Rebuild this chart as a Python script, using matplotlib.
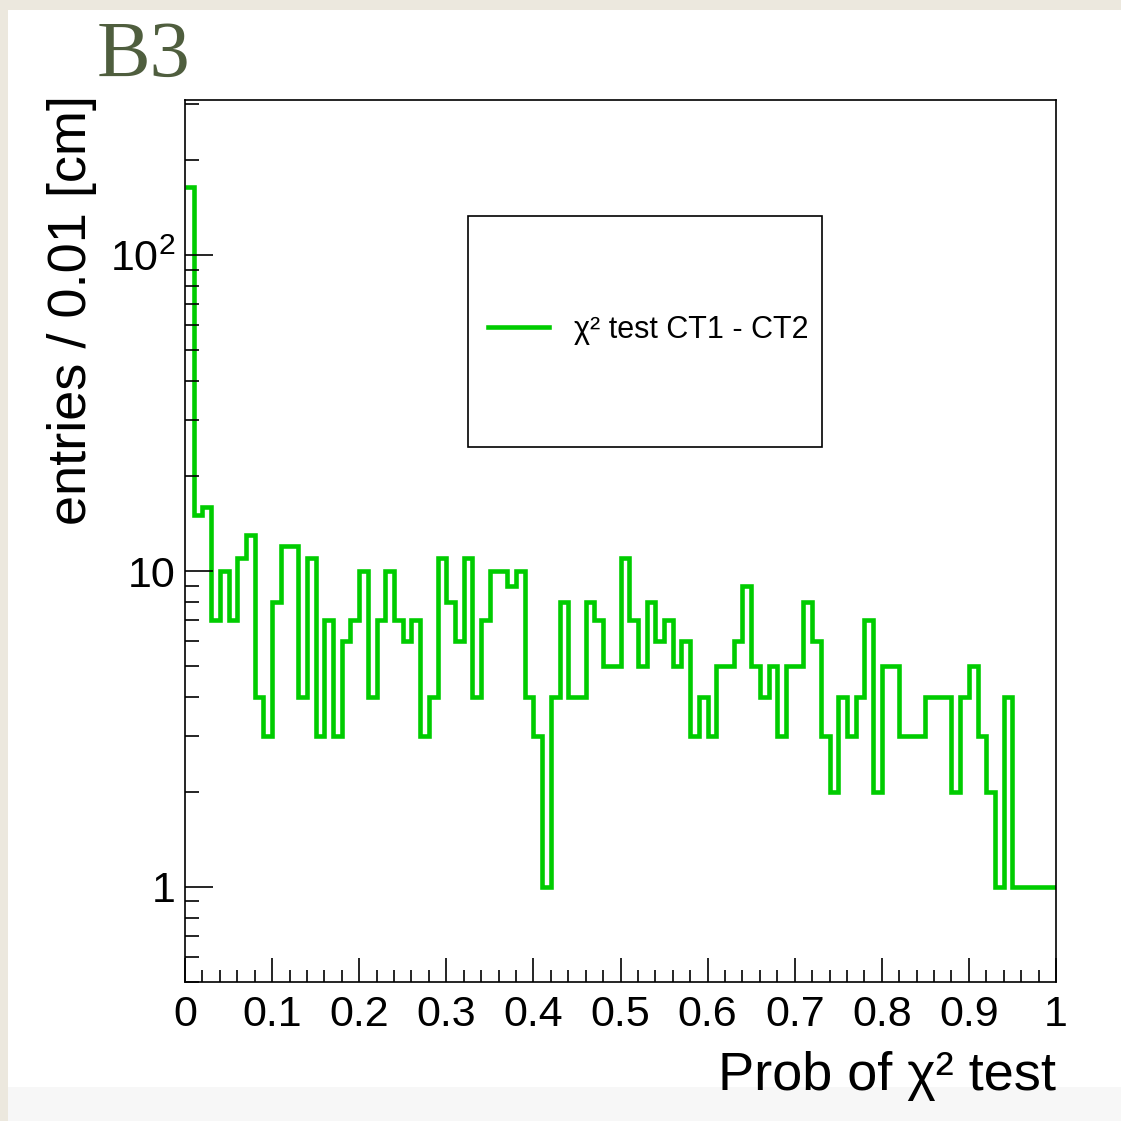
import numpy as np
import matplotlib
matplotlib.use("Agg")
import matplotlib.pyplot as plt
from matplotlib.patches import Rectangle
from matplotlib.ticker import FixedLocator, FixedFormatter, NullFormatter

plt.rcParams["font.family"] = ["Liberation Sans", "DejaVu Sans"]

# --- histogram data (entries per 0.01 bin of the chi2 probability) ---
bin_edges = np.linspace(0.0, 1.0, 101)
counts = [
    165, 15, 16, 7, 10, 7, 11, 13, 4, 3,
    8, 12, 12, 4, 11, 3, 7, 3, 6, 7,
    10, 4, 7, 10, 7, 6, 7, 3, 4, 11,
    8, 6, 11, 4, 7, 10, 10, 9, 10, 4,
    3, 1, 4, 8, 4, 4, 8, 7, 5, 5,
    11, 7, 5, 8, 6, 7, 5, 6, 3, 4,
    3, 5, 5, 6, 9, 5, 4, 5, 3, 5,
    5, 8, 6, 3, 2, 4, 3, 4, 7, 2,
    5, 5, 3, 3, 3, 4, 4, 4, 2, 4,
    5, 3, 2, 1, 4, 1, 1, 1, 1, 1,
]
series_label = "χ² test CT1 - CT2"
x_ticks = [0, 0.1, 0.2, 0.3, 0.4, 0.5, 0.6, 0.7, 0.8, 0.9, 1.0]
x_tick_labels = ["0", "0.1", "0.2", "0.3", "0.4", "0.5", "0.6", "0.7", "0.8", "0.9", "1"]
y_ticks = [1, 10, 100]
y_tick_labels = ["1", "10", r"$\mathregular{10^{2}}$"]

W = H = 1121
fig = plt.figure(figsize=(W / 100, H / 100), dpi=100, facecolor="#ece8de")

# page background: white sheet with light grey strip at the bottom
fig.patches.append(Rectangle((8 / W, 34 / H), 1 - 8 / W, 1 - 44 / H,
                             transform=fig.transFigure, facecolor="white",
                             edgecolor="none", zorder=-10))
fig.patches.append(Rectangle((8 / W, 0), 1 - 8 / W, 34 / H,
                             transform=fig.transFigure, facecolor="#f7f7f7",
                             edgecolor="none", zorder=-10))

ax = fig.add_axes([185 / W, (H - 982) / H, 871 / W, 882 / H])
ax.set_zorder(2)
ax.set_facecolor("white")

ax.stairs(counts, bin_edges, baseline=None, color="#00cc00", linewidth=3.3,
          label=series_label)

ax.set_yscale("log")
ax.set_xlim(0, 1)
ax.set_ylim(0.5, 310)

ax.xaxis.set_major_locator(FixedLocator(x_ticks))
ax.xaxis.set_major_formatter(FixedFormatter(x_tick_labels))
ax.xaxis.set_minor_locator(FixedLocator(np.arange(0, 1.0001, 0.02)))
ax.yaxis.set_major_locator(FixedLocator(y_ticks))
ax.yaxis.set_major_formatter(FixedFormatter(y_tick_labels))
minor_y = [v * d for d in (0.1, 1, 10, 100) for v in range(2, 10)]
ax.yaxis.set_minor_locator(FixedLocator(minor_y))
ax.yaxis.set_minor_formatter(NullFormatter())

ax.tick_params(which="both", direction="in", top=False, right=False,
               width=1.2, color="black")
ax.tick_params(axis="x", which="major", length=17, pad=9, labelsize=31)
ax.tick_params(axis="x", which="minor", length=8.5)
ax.tick_params(axis="y", which="major", length=20, pad=7, labelsize=31)
ax.tick_params(axis="y", which="minor", length=10)
for s in ax.spines.values():
    s.set_linewidth(1.2)
    s.set_color("black")

# legend box (ROOT style, larger than its content)
ax.add_patch(Rectangle(((468 - 185) / 871, (982 - 447) / 882),
                       (822 - 468) / 871, (447 - 216) / 882,
                       transform=ax.transAxes, facecolor="white",
                       edgecolor="black", linewidth=1.2, zorder=3))
leg = ax.legend(loc="center left", frameon=False, fontsize=22,
                bbox_to_anchor=((476 - 185) / 871, (982 - 330) / 882),
                handlelength=2.0, handletextpad=0.8, borderaxespad=0)
leg.set_zorder(4)

fig.text(72 / W, 1 - 95 / H, "entries / 0.01 [cm]", rotation=90,
         ha="center", va="top", fontsize=39)
fig.text(1056 / W, (H - 1090) / H, "Prob of χ² test", ha="right",
         va="baseline", fontsize=39)

fig.text(97 / W, (H - 77) / H, "B3", family=["Liberation Serif", "DejaVu Serif"],
         fontsize=58, color="#4f5e3e", ha="left", va="baseline")

fig.savefig("out.png", dpi=100, facecolor=fig.get_facecolor())
